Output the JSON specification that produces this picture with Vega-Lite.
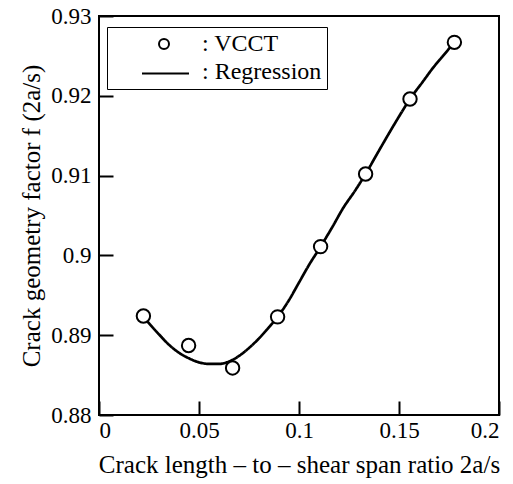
{
  "$schema": "https://vega.github.io/schema/vega-lite/v6.json",
  "width": 400,
  "height": 399,
  "autosize": "none",
  "padding": {"left": 99, "top": 16, "right": 14, "bottom": 69},
  "background": "white",
  "config": {
    "view": {"stroke": "black", "strokeWidth": 2},
    "font": "Liberation Serif",
    "legend": {"labelFont": "Liberation Serif", "titleFont": "Liberation Serif"},
    "axis": {
      "grid": false,
      "domain": false,
      "tickColor": "black",
      "tickWidth": 2,
      "tickSize": -14,
      "labelFont": "Liberation Serif",
      "labelFontSize": 23,
      "labelColor": "black",
      "titleFont": "Liberation Serif",
      "titleFontSize": 25,
      "titleFontWeight": "normal",
      "titleColor": "black"
    }
  },
  "datasets": {
    "vcct": [
      {"ratio": 0.0222, "f": 0.8924, "series": ": VCCT"},
      {"ratio": 0.0448, "f": 0.8887, "series": ": VCCT"},
      {"ratio": 0.0668, "f": 0.8859, "series": ": VCCT"},
      {"ratio": 0.0893, "f": 0.8923, "series": ": VCCT"},
      {"ratio": 0.1108, "f": 0.9011, "series": ": VCCT"},
      {"ratio": 0.1333, "f": 0.9102, "series": ": VCCT"},
      {"ratio": 0.1555, "f": 0.9196, "series": ": VCCT"},
      {"ratio": 0.1777, "f": 0.9267, "series": ": VCCT"}
    ],
    "regression": [
      {"ratio": 0.0222, "f": 0.8923, "series": ": Regression"},
      {"ratio": 0.026, "f": 0.8912, "series": ": Regression"},
      {"ratio": 0.030, "f": 0.8901, "series": ": Regression"},
      {"ratio": 0.035, "f": 0.8888, "series": ": Regression"},
      {"ratio": 0.040, "f": 0.8878, "series": ": Regression"},
      {"ratio": 0.045, "f": 0.8871, "series": ": Regression"},
      {"ratio": 0.050, "f": 0.8866, "series": ": Regression"},
      {"ratio": 0.055, "f": 0.8864, "series": ": Regression"},
      {"ratio": 0.060, "f": 0.8864, "series": ": Regression"},
      {"ratio": 0.065, "f": 0.8867, "series": ": Regression"},
      {"ratio": 0.070, "f": 0.8874, "series": ": Regression"},
      {"ratio": 0.075, "f": 0.8884, "series": ": Regression"},
      {"ratio": 0.080, "f": 0.8896, "series": ": Regression"},
      {"ratio": 0.085, "f": 0.8910, "series": ": Regression"},
      {"ratio": 0.0893, "f": 0.8923, "series": ": Regression"},
      {"ratio": 0.095, "f": 0.8944, "series": ": Regression"},
      {"ratio": 0.100, "f": 0.8966, "series": ": Regression"},
      {"ratio": 0.105, "f": 0.8988, "series": ": Regression"},
      {"ratio": 0.1108, "f": 0.9011, "series": ": Regression"},
      {"ratio": 0.117, "f": 0.9037, "series": ": Regression"},
      {"ratio": 0.122, "f": 0.9059, "series": ": Regression"},
      {"ratio": 0.128, "f": 0.9081, "series": ": Regression"},
      {"ratio": 0.1333, "f": 0.9102, "series": ": Regression"},
      {"ratio": 0.139, "f": 0.9127, "series": ": Regression"},
      {"ratio": 0.145, "f": 0.9153, "series": ": Regression"},
      {"ratio": 0.150, "f": 0.9174, "series": ": Regression"},
      {"ratio": 0.1555, "f": 0.9196, "series": ": Regression"},
      {"ratio": 0.162, "f": 0.9218, "series": ": Regression"},
      {"ratio": 0.167, "f": 0.9235, "series": ": Regression"},
      {"ratio": 0.172, "f": 0.9250, "series": ": Regression"},
      {"ratio": 0.1777, "f": 0.9267, "series": ": Regression"}
    ]
  },
  "layer": [
    {
      "data": {"name": "regression"},
      "mark": {"type": "line", "color": "black", "strokeWidth": 2.7, "interpolate": "monotone"},
      "encoding": {
        "x": {"field": "ratio", "type": "quantitative"},
        "y": {"field": "f", "type": "quantitative"},
        "strokeDash": {
          "field": "series", "type": "nominal",
          "scale": {"domain": [": Regression"], "range": [[1, 0]]},
          "legend": {
            "title": null,
            "orient": "none",
            "legendX": 42,
            "legendY": 33,
            "padding": 0,
            "zindex": 2,
            "symbolType": "stroke",
            "symbolSize": 2209,
            "symbolStrokeColor": "black",
            "symbolStrokeWidth": 2,
            "labelOpacity": 0,
            "labelFontSize": 1
          }
        }
      }
    },
    {
      "data": {"name": "vcct"},
      "mark": {"type": "point", "filled": true, "strokeWidth": 2, "size": 180, "opacity": 1},
      "encoding": {
        "x": {
          "field": "ratio", "type": "quantitative",
          "scale": {"domain": [0, 0.2], "nice": false},
          "axis": {"values": [0, 0.05, 0.1, 0.15, 0.2], "format": "~g", "labelPadding": 18, "title": "Crack length – to – shear span ratio 2a/s", "titlePadding": 10}
        },
        "y": {
          "field": "f", "type": "quantitative",
          "scale": {"domain": [0.88, 0.93], "nice": false, "zero": false},
          "axis": {"values": [0.88, 0.89, 0.9, 0.91, 0.92, 0.93], "format": "~g", "labelPadding": 22, "title": "Crack geometry factor f (2a/s)", "titlePadding": 6}
        },
        "stroke": {
          "field": "series", "type": "nominal",
          "scale": {"domain": [": VCCT", ": Regression"], "range": ["black", "transparent"]},
          "legend": {
            "title": null,
            "orient": "none",
            "legendX": 8,
            "legendY": 11,
            "zindex": 1,
            "strokeColor": "black",
            "padding": 5,
            "symbolSize": 100,
            "symbolStrokeWidth": 2,
            "symbolOffset": 40,
            "labelOffset": 26,
            "labelFontSize": 24,
            "labelColor": "black",
            "rowPadding": 4
          }
        },
        "fill": {
          "field": "series", "type": "nominal",
          "scale": {"domain": [": VCCT", ": Regression"], "range": ["white", "transparent"]},
          "legend": {
            "title": null,
            "orient": "none",
            "legendX": 8,
            "legendY": 11,
            "zindex": 1,
            "strokeColor": "black",
            "padding": 5,
            "symbolSize": 100,
            "symbolStrokeWidth": 2,
            "symbolOffset": 40,
            "labelOffset": 26,
            "labelFontSize": 24,
            "labelColor": "black",
            "rowPadding": 4
          }
        }
      }
    }
  ]
}
